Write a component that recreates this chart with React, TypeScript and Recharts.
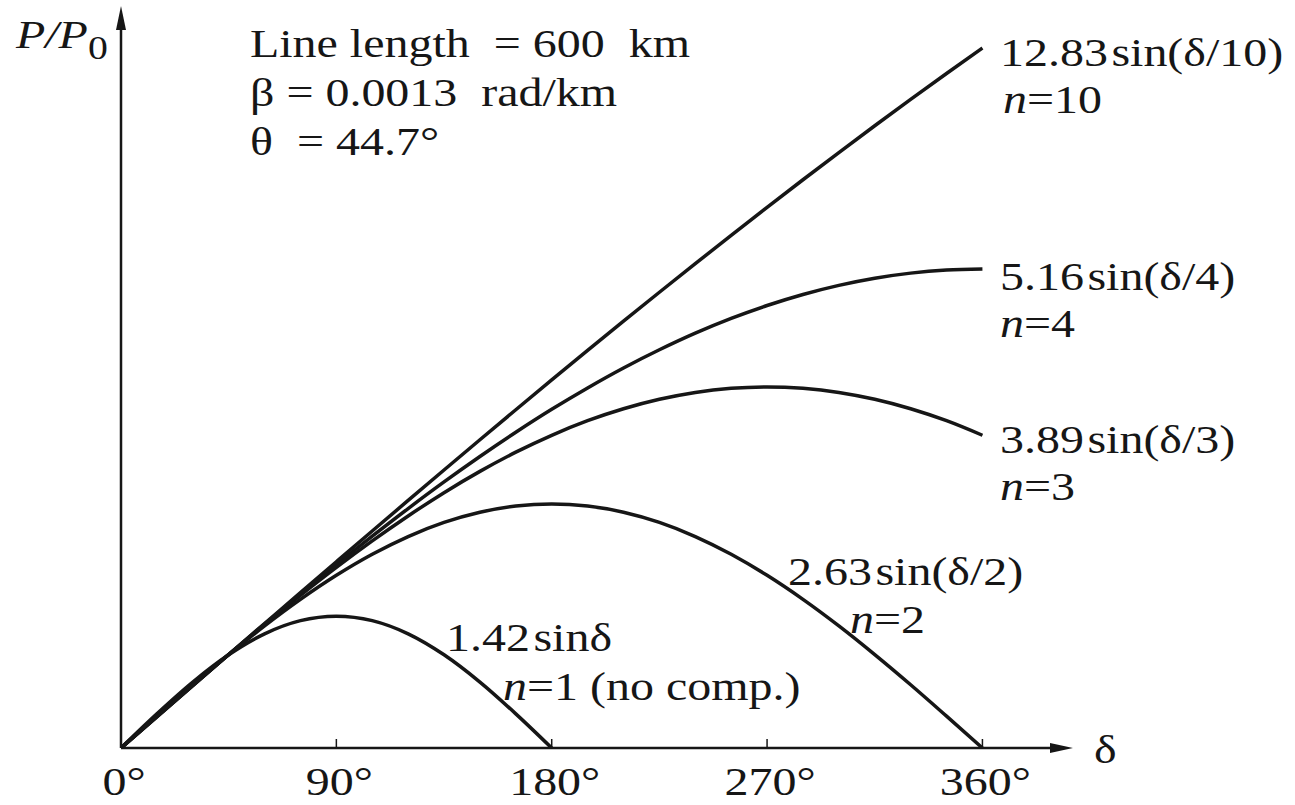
import React from 'react';
import { LineChart, Line, XAxis, YAxis, Customized } from 'recharts';

// load angle delta in degrees, sampled every 15 deg
const DELTA = [0, 15, 30, 45, 60, 75, 90, 105, 120, 135, 150, 165, 180, 195, 210, 225, 240, 255, 270, 285, 300, 315, 330, 345, 360];

// P/P0 for each compensation level
const N1 = [0, 0.368, 0.71, 1.004, 1.23, 1.372, 1.42, 1.372, 1.23, 1.004, 0.71, 0.368, 0, null, null, null, null, null, null, null, null, null, null, null, null];
const N2 = [0, 0.343, 0.681, 1.006, 1.315, 1.601, 1.86, 2.087, 2.278, 2.43, 2.54, 2.607, 2.63, 2.607, 2.54, 2.43, 2.278, 2.087, 1.86, 1.601, 1.315, 1.006, 0.681, 0.343, 0];
const N3 = [0, 0.339, 0.675, 1.007, 1.33, 1.644, 1.945, 2.231, 2.5, 2.751, 2.98, 3.187, 3.369, 3.526, 3.655, 3.757, 3.831, 3.875, 3.89, 3.875, 3.831, 3.757, 3.655, 3.526, 3.369];
const N4 = [0, 0.337, 0.674, 1.007, 1.336, 1.659, 1.975, 2.282, 2.58, 2.867, 3.141, 3.402, 3.649, 3.879, 4.094, 4.29, 4.469, 4.628, 4.767, 4.886, 4.984, 5.061, 5.116, 5.149, 5.16];
const N10 = [0, 0.336, 0.672, 1.007, 1.341, 1.675, 2.007, 2.338, 2.667, 2.995, 3.321, 3.644, 3.965, 4.283, 4.598, 4.91, 5.218, 5.523, 5.825, 6.122, 6.415, 6.704, 6.988, 7.267, 7.541];

const X_TICKS = [0, 90, 180, 270, 360];
const SERIES = ['n1', 'n2', 'n3', 'n4', 'n10'];

const rows = DELTA.map((d, i) => ({
  delta: d,
  n1: N1[i],
  n2: N2[i],
  n3: N3[i],
  n4: N4[i],
  n10: N10[i],
}));

// layout
const W = 1295;
const H = 805;
const LEFT = 121;
const TOP = 24;
const AXIS_Y = 748;
const PLOT_W = 938;
const X_MAX = 392;
const Y_MAX = 7.8;

const INK = '#161616';
const FONT = '"Liberation Serif", "Times New Roman", serif';
const FS = 41;
const STRETCH = 1.17;

const Txt = ({ x, y, anchor = 'start', children }: any) => (
  <text
    transform={`translate(${x} ${y}) scale(${STRETCH} 1)`}
    textAnchor={anchor}
    fontFamily={FONT}
    fontSize={FS}
    fill={INK}
    style={{ whiteSpace: 'pre' }}
  >
    {children}
  </text>
);

const DegTick = (props: any) => {
  const { x, y, payload } = props;
  return (
    <g>
      {payload.value > 0 && <line x1={x} x2={x} y1={y} y2={y - 9} stroke={INK} strokeWidth={1.5} />}
      <Txt x={x + 3} y={AXIS_Y + 47} anchor="middle">{`${payload.value}°`}</Txt>
    </g>
  );
};

const Formula = ({ x, y, k, arg }: any) => (
  <Txt x={x} y={y}>
    <tspan>{k}</tspan>
    <tspan dx={3}>{`sin${arg}`}</tspan>
  </Txt>
);

const Nlabel = ({ x, y, n, extra = '' }: any) => (
  <Txt x={x} y={y}>
    <tspan fontStyle="italic">n</tspan>
    <tspan>{`=${n}${extra}`}</tspan>
  </Txt>
);

const Annotations = () => (
  <g>
    {/* axis arrow heads */}
    <polygon points={`${LEFT},6 ${LEFT - 5},30 ${LEFT + 5},30`} fill={INK} />
    <polygon points={`1073,${AXIS_Y} 1050,${AXIS_Y - 5} 1050,${AXIS_Y + 5}`} fill={INK} />

    <Txt x={16} y={48}>
      <tspan fontStyle="italic">P/P</tspan>
      <tspan dy={11} fontSize={34}>0</tspan>
    </Txt>
    <Txt x={1094} y={763}>δ</Txt>

    <Txt x={250} y={57}>{'Line length  = 600  km'}</Txt>
    <Txt x={250} y={106}>{'β = 0.0013  rad/km'}</Txt>
    <Txt x={250} y={155}>{'θ  = 44.7°'}</Txt>

    <Formula x={1000} y={66} k="12.83" arg="(δ/10)" />
    <Nlabel x={1003} y={113} n={10} />
    <Formula x={1000} y={290} k="5.16" arg="(δ/4)" />
    <Nlabel x={1000} y={337} n={4} />
    <Formula x={1000} y={453} k="3.89" arg="(δ/3)" />
    <Nlabel x={1000} y={500} n={3} />
    <Formula x={788} y={585} k="2.63" arg="(δ/2)" />
    <Nlabel x={850} y={633} n={2} />
    <Formula x={446} y={651} k="1.42" arg="δ" />
    <Nlabel x={503} y={700} n={1} extra=" (no comp.)" />
  </g>
);

export default function App() {
  return (
    <div style={{ position: 'absolute', left: 0, top: 0, width: W, height: H, background: '#fff' }}>
      <LineChart
        width={W}
        height={H}
        data={rows}
        margin={{ top: TOP, right: W - LEFT - PLOT_W, bottom: 0, left: 0 }}
      >
        <XAxis
          dataKey="delta"
          type="number"
          domain={[0, X_MAX]}
          ticks={X_TICKS}
          interval={0}
          allowDataOverflow
          height={H - AXIS_Y}
          axisLine={{ stroke: INK, strokeWidth: 2.5 }}
          tickLine={false}
          tickSize={0}
          tickMargin={0}
          tick={<DegTick />}
        />
        <YAxis
          type="number"
          domain={[0, Y_MAX]}
          allowDataOverflow
          width={LEFT}
          tick={false}
          tickLine={false}
          axisLine={{ stroke: INK, strokeWidth: 2.5 }}
        />
        {SERIES.map((key) => (
          <Line
            key={key}
            dataKey={key}
            type="monotone"
            stroke={INK}
            strokeWidth={3.5}
            dot={false}
            activeDot={false}
            isAnimationActive={false}
          />
        ))}
        <Customized component={<Annotations />} />
      </LineChart>
    </div>
  );
}
